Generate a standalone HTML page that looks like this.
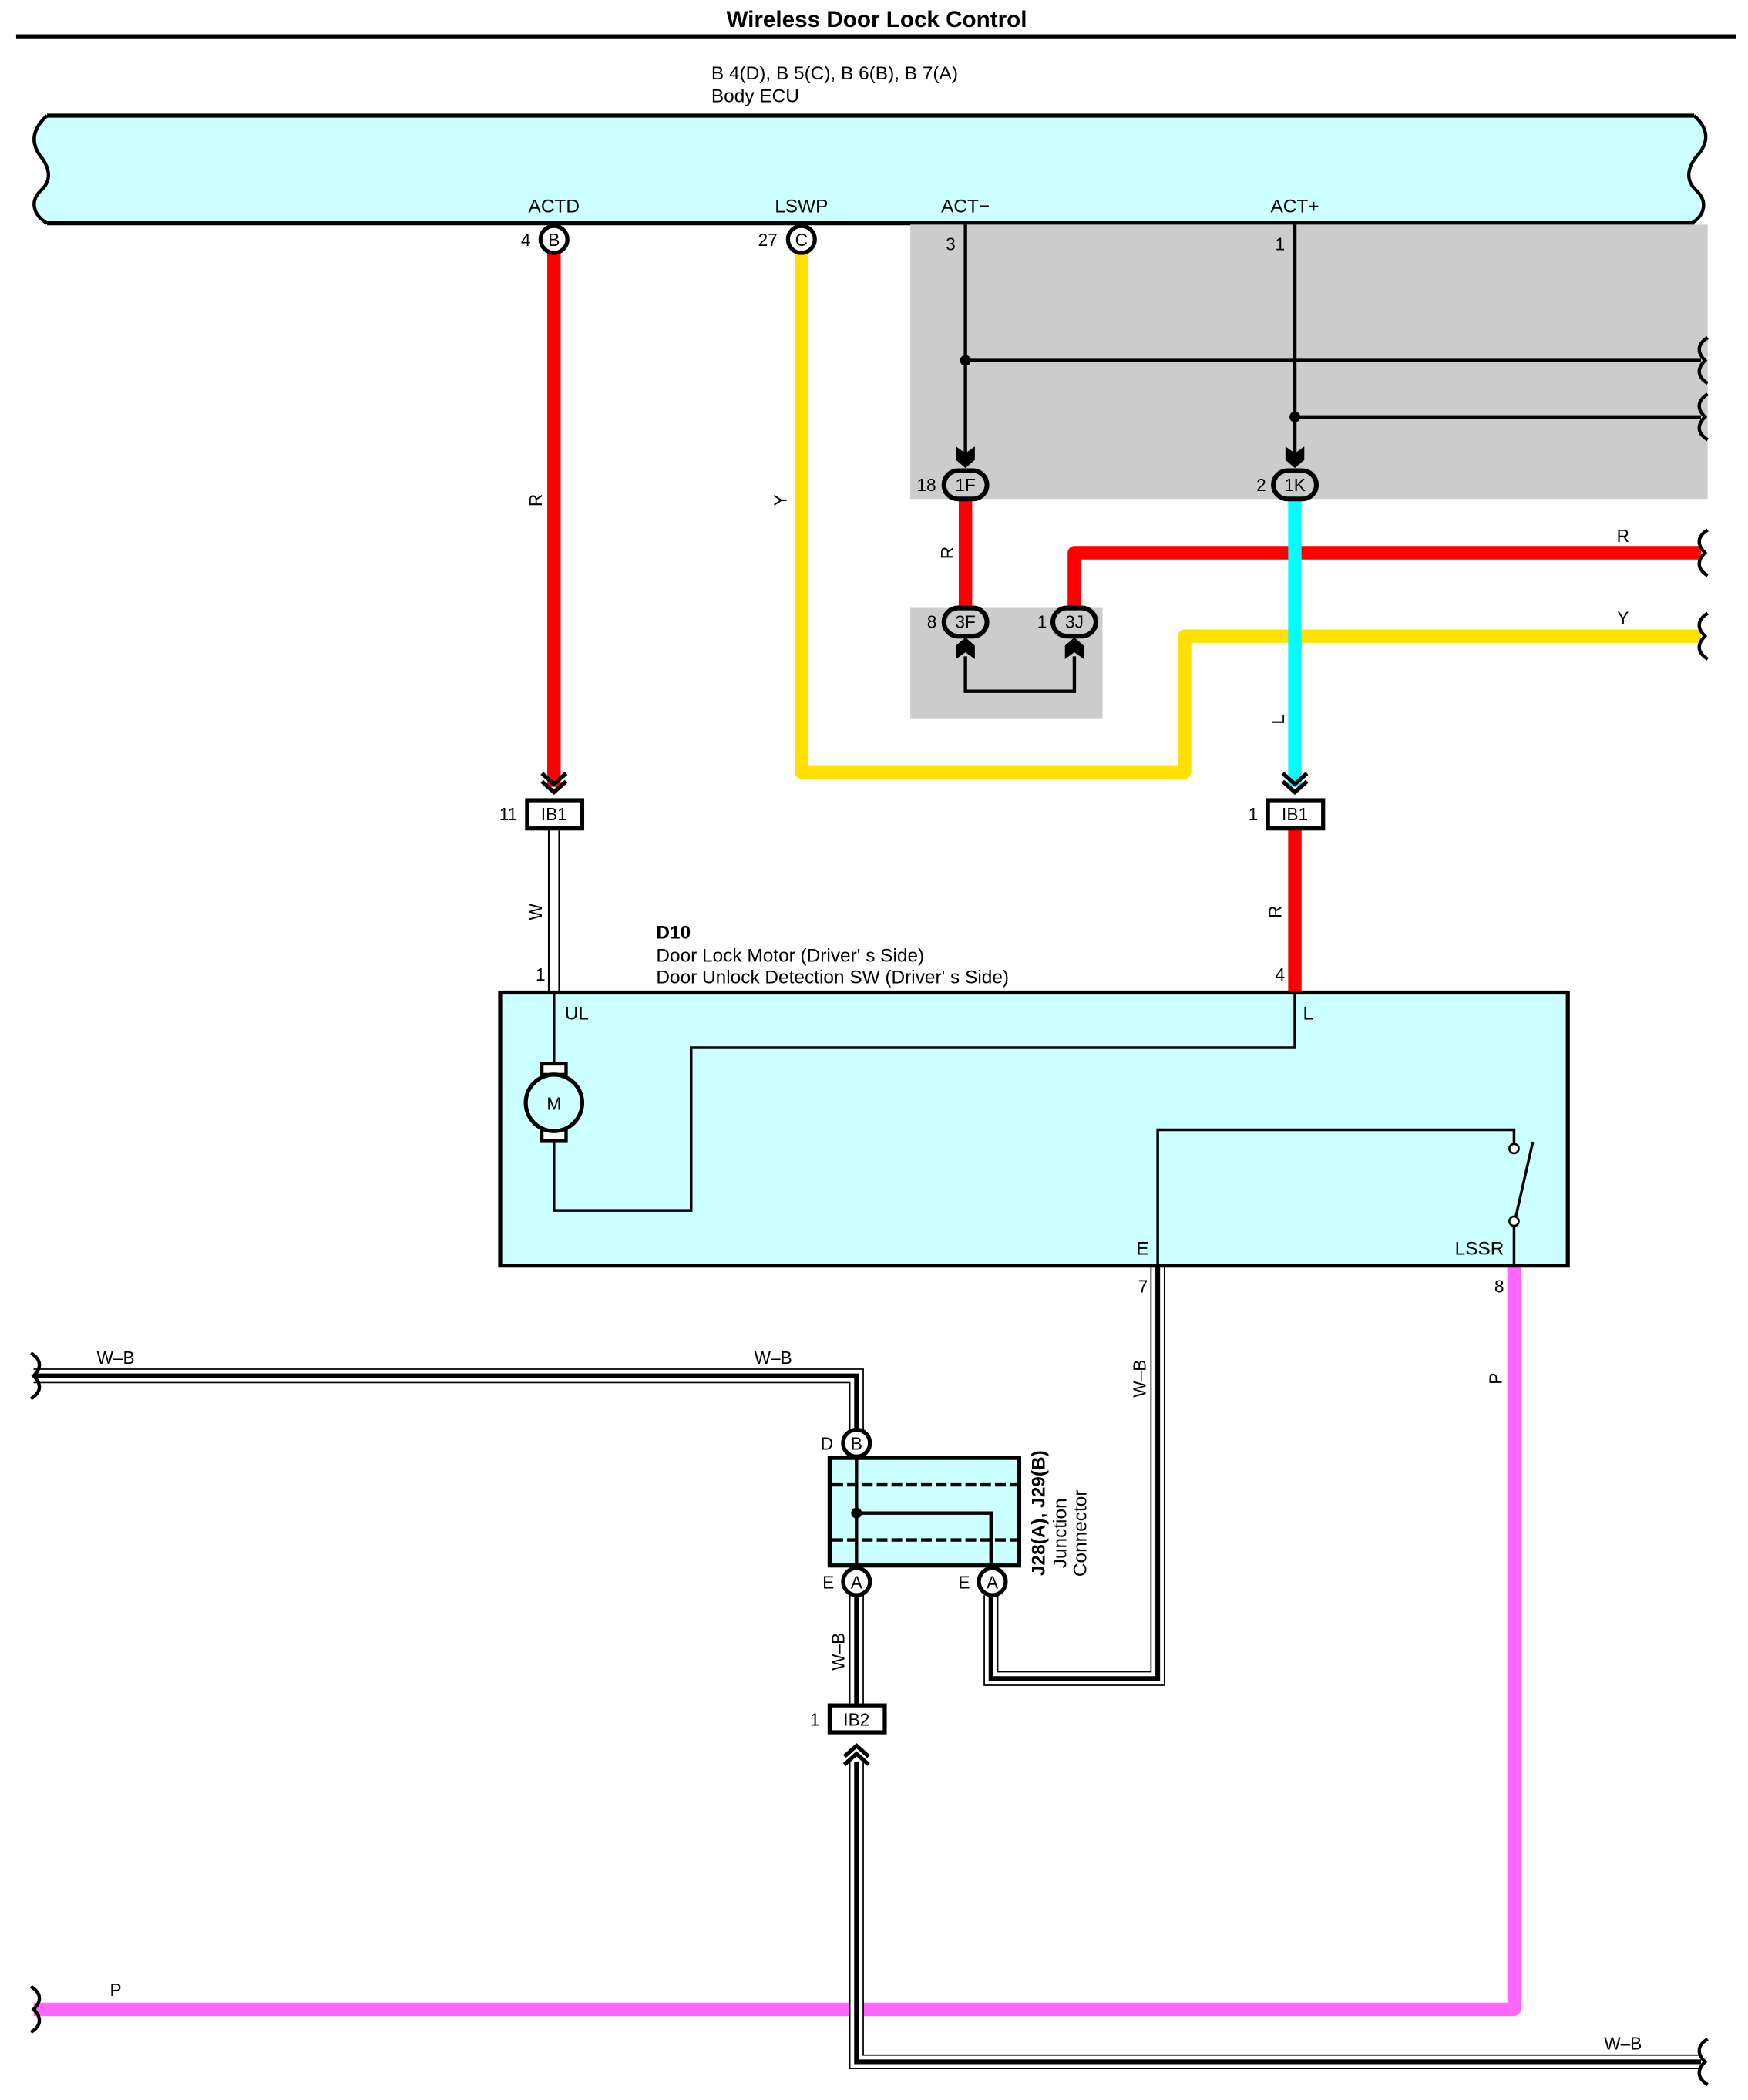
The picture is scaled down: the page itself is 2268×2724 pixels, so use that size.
<!DOCTYPE html>
<html><head><meta charset="utf-8"><style>
html,body{margin:0;padding:0;background:#fff}
svg{display:block}
text{font-family:"Liberation Sans",sans-serif;fill:#000}
</style></head><body>
<svg width="2268" height="2724" viewBox="0 0 1300 1561.4" preserveAspectRatio="none" xmlns="http://www.w3.org/2000/svg">
<defs>
<g id="dchev"><path d="M-9,-10 L0,-2 L9,-10 M-9,-4 L0,4 L9,-4" fill="none" stroke="#000" stroke-width="3"/></g>
<g id="fchev"><path d="M-7,-8 L0,-3 L7,-8 L7,2 L0,8 L-7,2 Z" fill="#000"/></g>
<g id="brk"><path d="M2,-17 C-6,-12 -6,-6 0,0 C-6,6 -6,12 2,17" fill="none" stroke="#000" stroke-width="2.5"/></g>
</defs>
<rect width="1300" height="1562" fill="#fff"/>
<!-- title -->
<text x="652" y="20" font-size="17" font-weight="bold" text-anchor="middle">Wireless Door Lock Control</text>
<line x1="12" y1="27" x2="1291" y2="27" stroke="#000" stroke-width="3"/>
<text x="529" y="59" font-size="14">B 4(D), B 5(C), B 6(B), B 7(A)</text>
<text x="529" y="76" font-size="14">Body ECU</text>
<!-- ECU -->
<path d="M35,86 L1260,86 C1270,95 1272,105 1262,116 C1254,126 1254,135 1262,142 C1270,150 1268,160 1258,166 L35,166 C25,160 22,150 30,142 C38,135 38,126 30,116 C20,105 25,95 35,86 Z" fill="#ccffff"/>
<line x1="35" y1="86" x2="1260" y2="86" stroke="#000" stroke-width="3"/>
<line x1="35" y1="166" x2="1260" y2="166" stroke="#000" stroke-width="3"/>
<path d="M35,86 C25,95 22,105 30,116 C38,126 38,135 30,142 C22,150 25,160 35,166" fill="none" stroke="#000" stroke-width="2.5"/>
<path d="M1260,86 C1270,95 1272,105 1262,116 C1254,126 1254,135 1262,142 C1270,150 1268,160 1258,166" fill="none" stroke="#000" stroke-width="2.5"/>
<g font-size="14" text-anchor="middle">
<text x="412" y="158">ACTD</text><text x="596" y="158">LSWP</text><text x="718" y="158">ACT−</text><text x="963" y="158">ACT+</text>
</g>
<!-- gray areas -->
<rect x="677" y="167" width="593" height="204" fill="#cccccc"/>
<rect x="677" y="452" width="143" height="82" fill="#cccccc"/>
<!-- wires colored -->
<g fill="none" stroke-width="10" stroke-linejoin="round">
<path d="M412,188 L412,585" stroke="#ff0000"/>
<path d="M596,188 L596,574 L881,574 L881,473 L1265,473" stroke="#ffe000"/>
<path d="M718,371 L718,452" stroke="#ff0000"/>
<path d="M799,452 L799,411 L1265,411" stroke="#ff0000"/>
<path d="M963,371 L963,585" stroke="#00ffff"/>
<path d="M963,616 L963,738" stroke="#ff0000"/>
<path d="M1126,942 L1126,1494 L25,1494" stroke="#ff66ff"/>
</g>
<!-- W wire -->
<path d="M412,616 L412,738" stroke="#000" stroke-width="9"/>
<path d="M412,616 L412,738" stroke="#fff" stroke-width="6.5"/>
<!-- W-B wires -->
<g fill="none" stroke-linejoin="miter">
<path d="M861,942 L861,1248 L737,1248 L737,1186 M25,1023 L637,1023 L637,1063 M637,1186 L637,1268 M637,1310 L637,1533 L1265,1533" stroke="#000" stroke-width="11"/>
<path d="M861,942 L861,1248 L737,1248 L737,1186 M25,1023 L637,1023 L637,1063 M637,1186 L637,1268 M637,1310 L637,1533 L1265,1533" stroke="#fff" stroke-width="9"/>
<path d="M861,942 L861,1248 L737,1248 L737,1186 M25,1023 L637,1023 L637,1063 M637,1186 L637,1268 M637,1310 L637,1533 L1265,1533" stroke="#000" stroke-width="3.5"/>
</g>
<!-- ECU pins -->
<circle cx="412" cy="178" r="10" fill="#fff" stroke="#000" stroke-width="3"/>
<text x="412" y="183" font-size="13" text-anchor="middle">B</text>
<text x="391" y="183" font-size="13" text-anchor="middle">4</text>
<circle cx="596" cy="178" r="10" fill="#fff" stroke="#000" stroke-width="3"/>
<text x="596" y="183" font-size="13" text-anchor="middle">C</text>
<text x="571" y="183" font-size="13" text-anchor="middle">27</text>
<!-- black lines in gray -->
<g stroke="#000" stroke-width="2.5" fill="none">
<path d="M718,167 L718,345 M718,268 L1265,268 M963,167 L963,345 M963,310 L1265,310"/>
<path d="M718,488 L718,514 L799,514 L799,488"/>
</g>
<circle cx="718" cy="268" r="4" fill="#000"/><circle cx="963" cy="310" r="4" fill="#000"/>
<use href="#fchev" x="718" y="340"/><use href="#fchev" x="963" y="340"/>
<use href="#fchev" x="718" y="482" transform="rotate(180 718 482)"/>
<use href="#fchev" x="799" y="482" transform="rotate(180 799 482)"/>
<text x="707" y="186" font-size="13" text-anchor="middle">3</text>
<text x="952" y="186" font-size="13" text-anchor="middle">1</text>
<!-- ovals -->
<g stroke="#000" stroke-width="3.5" fill="#ccc">
<rect x="702" y="350" width="32" height="21" rx="10.5"/>
<rect x="947" y="350" width="32" height="21" rx="10.5"/>
<rect x="702" y="452" width="32" height="21" rx="10.5"/>
<rect x="783" y="452" width="32" height="21" rx="10.5"/>
</g>
<g font-size="13" text-anchor="middle">
<text x="718" y="365">1F</text><text x="963" y="365">1K</text><text x="718" y="467">3F</text><text x="799" y="467">3J</text>
<text x="689" y="365">18</text><text x="938" y="365">2</text><text x="693" y="467">8</text><text x="775" y="467">1</text>
</g>
<!-- wire labels rotated -->
<g font-size="13" text-anchor="middle">
<text transform="translate(403,372) rotate(-90)">R</text>
<text transform="translate(585,372) rotate(-90)">Y</text>
<text transform="translate(709,411) rotate(-90)">R</text>
<text transform="translate(955,535) rotate(-90)">L</text>
<text transform="translate(403,678) rotate(-90)">W</text>
<text transform="translate(953,678) rotate(-90)">R</text>
<text transform="translate(852,1025) rotate(-90)">W–B</text>
<text transform="translate(1117,1025) rotate(-90)">P</text>
<text transform="translate(628,1228) rotate(-90)">W–B</text>
<text x="1207" y="403">R</text><text x="1207" y="464">Y</text>
<text x="86" y="1014">W–B</text><text x="575" y="1014">W–B</text>
<text x="86" y="1484">P</text><text x="1207" y="1524">W–B</text>
</g>
<!-- break symbols -->
<use href="#brk" x="1268" y="268"/><use href="#brk" x="1268" y="310"/>
<use href="#brk" x="1268" y="411"/><use href="#brk" x="1268" y="473"/>
<use href="#brk" x="1268" y="1533"/>
<use href="#brk" x="25" y="1023" transform="rotate(180 25 1023)"/>
<use href="#brk" x="25" y="1494" transform="rotate(180 25 1494)"/>
<!-- IB1 connectors -->
<use href="#dchev" x="412" y="585"/><use href="#dchev" x="963" y="585"/>
<rect x="392" y="595" width="41" height="21" fill="#fff" stroke="#000" stroke-width="3"/>
<rect x="943" y="595" width="41" height="21" fill="#fff" stroke="#000" stroke-width="3"/>
<g font-size="13" text-anchor="middle">
<text x="412" y="610">IB1</text><text x="963" y="610">IB1</text>
<text x="378" y="610">11</text><text x="932" y="610">1</text>
</g>
<!-- D10 -->
<text x="488" y="698" font-size="14" font-weight="bold">D10</text>
<text x="488" y="715" font-size="14">Door Lock Motor (Driver' s Side)</text>
<text x="488" y="731" font-size="14">Door Unlock Detection SW (Driver' s Side)</text>
<text x="402" y="729" font-size="13" text-anchor="middle">1</text>
<text x="952" y="729" font-size="13" text-anchor="middle">4</text>
<rect x="372" y="738" width="794" height="203" fill="#ccffff" stroke="#000" stroke-width="3"/>
<g stroke="#000" stroke-width="2" fill="none">
<path d="M412,738 L412,792 M412,848 L412,900 L514,900 L514,779 L963,779 L963,738"/>
<path d="M861,941 L861,840 L1126,840 L1126,850 M1127,906 L1140,849 M1126,912 L1126,941"/>
</g>
<rect x="403" y="791" width="18" height="8" fill="#fff" stroke="#000" stroke-width="2.5"/>
<rect x="403" y="840" width="18" height="8" fill="#fff" stroke="#000" stroke-width="2.5"/>
<circle cx="412" cy="820" r="21" fill="#ccffff" stroke="#000" stroke-width="3"/>
<text x="412" y="825" font-size="13" text-anchor="middle">M</text>
<circle cx="1126" cy="854" r="3.5" fill="#fff" stroke="#000" stroke-width="1.5"/>
<circle cx="1126" cy="908" r="3.5" fill="#fff" stroke="#000" stroke-width="1.5"/>
<g font-size="14">
<text x="420" y="758">UL</text><text x="969" y="758">L</text>
<text x="845" y="933">E</text><text x="1082" y="933">LSSR</text>
</g>
<g font-size="13" text-anchor="middle"><text x="850" y="961">7</text><text x="1115" y="961">8</text></g>
<!-- junction connector -->
<rect x="617" y="1084" width="141" height="80" fill="#ccffff" stroke="#000" stroke-width="3"/>
<g stroke="#000" stroke-width="2.5" fill="none">
<path d="M619,1104 L756,1104 M619,1145 L756,1145" stroke-dasharray="8,3"/>
<path d="M637,1084 L637,1164 M637,1125 L737,1125 L737,1164"/>
</g>
<circle cx="637" cy="1125" r="4" fill="#000"/>
<circle cx="637" cy="1073" r="10" fill="#fff" stroke="#000" stroke-width="3"/>
<circle cx="637" cy="1176" r="10" fill="#fff" stroke="#000" stroke-width="3"/>
<circle cx="738" cy="1176" r="10" fill="#fff" stroke="#000" stroke-width="3"/>
<g font-size="13" text-anchor="middle">
<text x="637" y="1078">B</text><text x="637" y="1181">A</text><text x="738" y="1181">A</text>
<text x="615" y="1078">D</text><text x="616" y="1181">E</text><text x="717" y="1181">E</text>
</g>
<g font-size="14" text-anchor="middle">
<text transform="translate(777,1125) rotate(-90)" font-weight="bold">J28(A), J29(B)</text>
<text transform="translate(793,1140) rotate(-90)">Junction</text>
<text transform="translate(808,1140) rotate(-90)">Connector</text>
</g>
<!-- IB2 -->
<rect x="617" y="1268" width="41" height="20" fill="#fff" stroke="#000" stroke-width="3"/>
<text x="637" y="1283" font-size="13" text-anchor="middle">IB2</text>
<text x="606" y="1283" font-size="13" text-anchor="middle">1</text>
<use href="#dchev" x="637" y="1302" transform="rotate(180 637 1302)"/>
</svg>
</body></html>
